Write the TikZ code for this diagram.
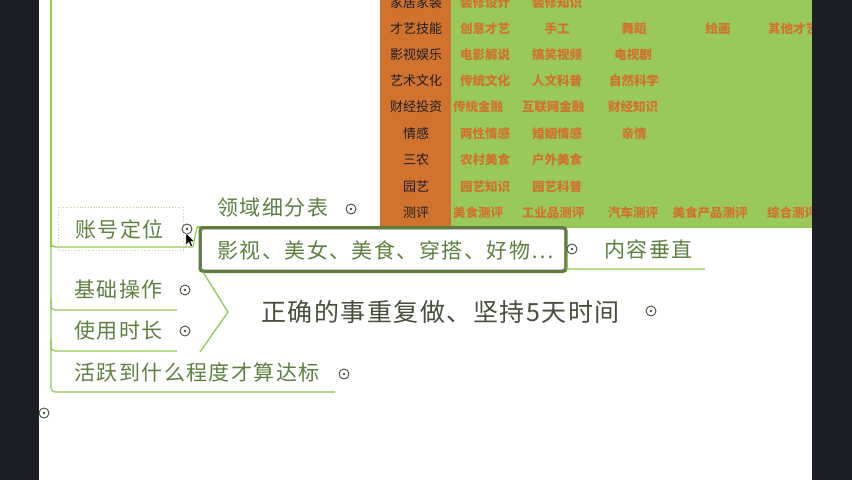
\documentclass[tikz,border=0pt]{standalone}
\usepackage{fontspec}
\setmainfont{Noto Sans CJK SC}
\newfontfamily\cjk{Noto Sans CJK SC}
\newfontfamily\cjkls{Noto Sans CJK SC}[LetterSpace=7]
\newfontfamily\cjkmid{Noto Sans CJK SC}[LetterSpace=6]
\definecolor{barblack}{HTML}{1B1E27}
\definecolor{brgreen}{HTML}{92C854}
\definecolor{cellgreen}{HTML}{98C95A}
\definecolor{cellorange}{HTML}{D1722F}
\definecolor{labtext}{HTML}{5E8040}
\definecolor{maintext}{HTML}{454F3A}
\definecolor{boxline}{HTML}{5E7F3C}
\definecolor{hoverline}{HTML}{B5D98E}
\tikzset{
  lab/.style={anchor=west, inner sep=0pt, font=\cjkls\fontsize{21}{25}\selectfont, text=labtext},
  boxtext/.style={anchor=west, inner sep=0pt, font=\cjkls\fontsize{21}{25}\selectfont, text=labtext},
  maintopic/.style={anchor=west, inner sep=0pt, font=\cjkmid\fontsize{25}{29}\selectfont, text=maintext},
  cell/.style={inner sep=0pt, font=\cjk\bfseries\fontsize{12.5}{14}\selectfont, text=cellorange},
  rowlab/.style={inner sep=0pt, font=\cjk\fontsize{13}{15}\selectfont, text=barblack},
  btn/.style={circle, draw=maintext, fill=white, line width=0.9pt, minimum size=10pt, inner sep=0pt,
    path picture={\fill[maintext] (path picture bounding box.center) circle (1.3pt);}},
  br/.style={draw=brgreen, line width=1.4pt},
}
\begin{document}
\begin{tikzpicture}[x=1pt,y=-1pt]
\useasboundingbox (0,0) rectangle (852,480);
\clip (0,0) rectangle (852,480);
\fill[white] (0,0) rectangle (852,480);

% table image
\fill[cellorange] (380,-5) rectangle (451,226);
\fill[cellgreen] (451,-5) rectangle (812,226);

% row labels
\node[rowlab] (r0) at (416,2.5) {家居家装};
\node[rowlab] (r1) at (416,29) {才艺技能};
\node[rowlab] (r2) at (416,55) {影视娱乐};
\node[rowlab] (r3) at (416,81) {艺术文化};
\node[rowlab] (r4) at (416,107) {财经投资};
\node[rowlab] (r5) at (416,134) {情感};
\node[rowlab] (r6) at (416,160) {三农};
\node[rowlab] (r7) at (416,187) {园艺};
\node[rowlab] (r8) at (416,213) {测评};
% cells
\node[cell] (a01) at (485,2.5) {装修设计};
\node[cell] (a02) at (557,2.5) {装修知识};
\node[cell] (a11) at (485,29) {创意才艺};
\node[cell] (a12) at (557,29) {手工};
\node[cell] (a13) at (634,29) {舞蹈};
\node[cell] (a14) at (718,29) {绘画};
\node[cell] (a15) at (793,29) {其他才艺};
\node[cell] (a21) at (485,55) {电影解说};
\node[cell] (a22) at (557,55) {搞笑视频};
\node[cell] (a23) at (633,55) {电视剧};
\node[cell] (a31) at (485,81) {传统文化};
\node[cell] (a32) at (557,81) {人文科普};
\node[cell] (a33) at (634,81) {自然科学};
\node[cell] (a41) at (478,107) {传统金融};
\node[cell] (a42) at (553,107) {互联网金融};
\node[cell] (a43) at (633,107) {财经知识};
\node[cell] (a51) at (485,134) {两性情感};
\node[cell] (a52) at (557,134) {婚姻情感};
\node[cell] (a53) at (634,134) {亲情};
\node[cell] (a61) at (485,160) {农村美食};
\node[cell] (a62) at (557,160) {户外美食};
\node[cell] (a71) at (485,187) {园艺知识};
\node[cell] (a72) at (557,187) {园艺科普};
\node[cell] (a81) at (478,213) {美食测评};
\node[cell] (a82) at (553,213) {工业品测评};
\node[cell] (a83) at (633,213) {汽车测评};
\node[cell] (a84) at (710,213) {美食产品测评};
\node[cell] (a85) at (792,213) {综合测评};

% branch lines
\coordinate (top) at (51,-2);
\coordinate (zhend) at (193,247);
\draw[brgreen, line width=2pt] (top) -- (51,247);
\draw[br, rounded corners=4pt] (51,235) |- (zhend);
\draw[br, line width=1.2pt, rounded corners=4pt] (51,247) |- (177,310);
\draw[br, line width=1.2pt, rounded corners=4pt] (51,300) |- (177,351);
\draw[br, line width=1.2pt, rounded corners=4pt] (51,340) |- (335,392);

% topic labels
\draw[hoverline, dotted, line width=0.8pt] (58,207) rectangle (183,250);
\node[lab] (zh) at (75,229) {账号定位};
\node[lab] (ly) at (217,208) {领域细分表};
\node[lab] (jc) at (74,290) {基础操作};
\node[lab] (sy) at (74,331) {使用时长};
\node[lab] (hy) at (74,373) {活跃到什么程度才算达标};

% 领域细分表 underline (spans text + image)
\coordinate (lyst) at (197,227);
\coordinate (lyend) at (812,227);
\draw[br, line width=1.2pt] (lyst) -- (lyend);
\draw[br, line width=1.2pt] (zhend) -- (lyst);

% selected box
\node[draw=boxline, line width=3pt, rounded corners=3pt, minimum width=366pt, minimum height=44pt, inner sep=0pt] (bx) at (383,249.5) {};
\draw[black!60, line width=0.5pt, rounded corners=2pt] ([shift={(3.2pt,-3.2pt)}]bx.north west) rectangle ([shift={(-3.2pt,3.2pt)}]bx.south east);
\node[boxtext] (bxt) at (217,250) {影视、美女、美食、穿搭、好物…};

% child of box
\coordinate (nrst) at (567,269);
\coordinate (nrend) at (705,269);
\draw[br, line width=1.2pt] (bx.east) -- (nrst) -- (nrend);
\node[lab] (nr) at (604,249) {内容垂直};

% summary brace
\coordinate (sumtop) at (203,272);
\coordinate (sumtip) at (228,312);
\coordinate (sumbot) at (200,352);
\draw[br, line width=1.3pt] (sumtop) -- (sumtip) -- (sumbot);
\node[maintopic] (zq) at (261,312) {正确的事重复做、坚持5天时间};

% black side bars
\fill[barblack] (0,0) rectangle (39,480);
\fill[barblack] (812,0) rectangle (852,480);

% collapse buttons
\node[btn] (czh) at (187,229) {};
\node[btn] (cly) at (351,209) {};
\node[btn] (cjc) at (185,290) {};
\node[btn] (csy) at (185,331) {};
\node[btn] (chy) at (344,374) {};
\node[btn] (cbx) at (572,249) {};
\node[btn] (czq) at (651,311) {};
\node[btn] (croot) at (44,413) {};

% mouse cursor
\fill[black, draw=white, line width=0.4pt] (186,233) -- (186,245) -- (188.8,242.4) -- (190.8,246.6) -- (192.6,245.8) -- (190.6,241.6) -- (194.2,241.4) -- cycle;
\end{tikzpicture}
\end{document}
